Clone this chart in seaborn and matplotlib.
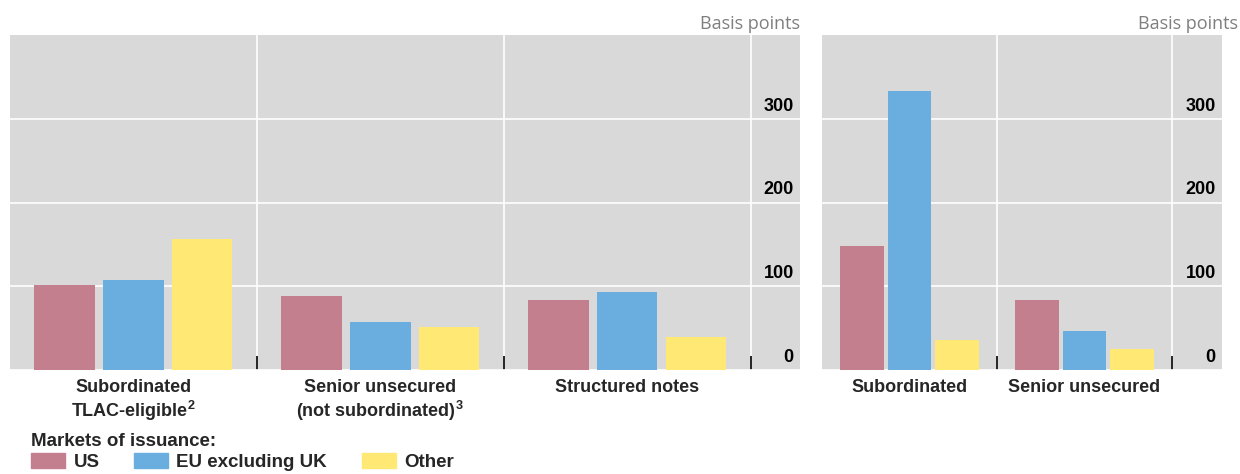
import matplotlib
matplotlib.use("Agg")
import matplotlib.pyplot as plt
import matplotlib.patches as mpatches
from matplotlib.transforms import blended_transform_factory
import pandas as pd
import seaborn as sns

# Datos
markets = ["US", "EU excluding UK", "Other"]
colores = ["#c47f8f", "#6aaee0", "#ffe873"]

left_cats = [r"Subordinated" "\n" r"TLAC-eligible$^{\mathbf{2}}$",
             r"Senior unsecured" "\n" r"(not subordinated)$^{\mathbf{3}}$",
             "Structured notes"]
left_us = [101, 88, 84]
left_eu = [107, 57, 93]
left_other = [157, 51, 39]

right_cats = ["Subordinated", "Senior unsecured"]
right_us = [148, 83]
right_eu = [333, 46]
right_other = [36, 25]

yticks = [0, 100, 200, 300]


def to_long(cats, us, eu, other):
    filas = []
    for serie, vals in zip(markets, [us, eu, other]):
        for c, v in zip(cats, vals):
            filas.append({"cat": c, "market": serie, "value": v})
    return pd.DataFrame(filas)


sns.set_style("white")
plt.rcParams["font.family"] = ["Liberation Sans", "DejaVu Sans"]
plt.rcParams["mathtext.fontset"] = "custom"
plt.rcParams["mathtext.bf"] = "Liberation Sans:bold"
plt.rcParams["mathtext.rm"] = "Liberation Sans"

fig = plt.figure(figsize=(12.4, 4.74), dpi=100)
ax1 = fig.add_axes([10 / 1240, 104 / 474, 790 / 1240, 335 / 474])
ax2 = fig.add_axes([822 / 1240, 104 / 474, 400 / 1240, 335 / 474])

# (eje, datos, categorias, limite x, ancho de grupo, hueco)
paneles = [
    (ax1, to_long(left_cats, left_us, left_eu, left_other), left_cats, 2.7, 0.835, 0.12),
    (ax2, to_long(right_cats, right_us, right_eu, right_other), right_cats, 1.786, 0.814, 0.09),
]

for ax, df, cats, xmax, w, g in paneles:
    sns.barplot(data=df, x="cat", y="value", hue="market", order=cats,
                hue_order=markets, palette=colores, width=w, gap=g,
                saturation=1, linewidth=0, ax=ax, legend=False, zorder=3)
    ax.set_facecolor("#d9d9d9")
    ax.set_ylim(0, 400)
    ax.set_xlim(-0.5, xmax)
    ax.set_yticks(yticks)
    ax.set_yticklabels([])
    ax.tick_params(axis="y", length=0)
    bounds = [i + 0.5 for i in range(len(cats))]
    ax.set_xticks(bounds, minor=True)
    ax.tick_params(axis="x", which="major", length=0, pad=6.5, labelsize=13)
    ax.tick_params(axis="x", which="minor", direction="in", length=10,
                   width=1.2, color="black", bottom=True)
    for lab in ax.get_xticklabels():
        lab.set_fontweight("bold")
        lab.set_linespacing(1.15)
    ax.grid(axis="y", color="white", linewidth=1.2, zorder=0)
    ax.grid(axis="x", which="minor", color="white", linewidth=1.2, zorder=0)
    ax.set_axisbelow(True)
    ax.set_xlabel("")
    ax.set_ylabel("")
    for s in ax.spines.values():
        s.set_visible(False)
    trans = blended_transform_factory(ax.transAxes, ax.transData)
    for t in yticks:
        ax.annotate(str(t), xy=(1.0, t + 5), xycoords=trans, xytext=(-4.5, 0),
                    textcoords="offset points", ha="right", va="bottom",
                    fontsize=13, fontweight="bold", color="black")

# unidades en la parte superior
fig.text(800 / 1240, 1 - 33 / 474, "Basis points", ha="right", va="bottom",
         fontsize=13, color="#7f7f7f", family=["Open Sans", "DejaVu Sans"])
fig.text(1238 / 1240, 1 - 33 / 474, "Basis points", ha="right", va="bottom",
         fontsize=13, color="#7f7f7f", family=["Open Sans", "DejaVu Sans"])

handles = [mpatches.Patch(color=c, label=m) for c, m in zip(colores, markets)]
leg = fig.legend(handles=handles, loc="upper left", bbox_to_anchor=(22 / 1240, 1 - 424 / 474),
                 ncol=3, frameon=False, title="Markets of issuance:", alignment="left",
                 fontsize=13.5, title_fontproperties={"weight": "bold", "size": 13.5},
                 handlelength=1.8, handleheight=0.8, handletextpad=0.45,
                 columnspacing=1.85, borderpad=0, labelspacing=0.15)
for t in leg.get_texts():
    t.set_fontweight("bold")

fig.savefig("out.png", dpi=100)
